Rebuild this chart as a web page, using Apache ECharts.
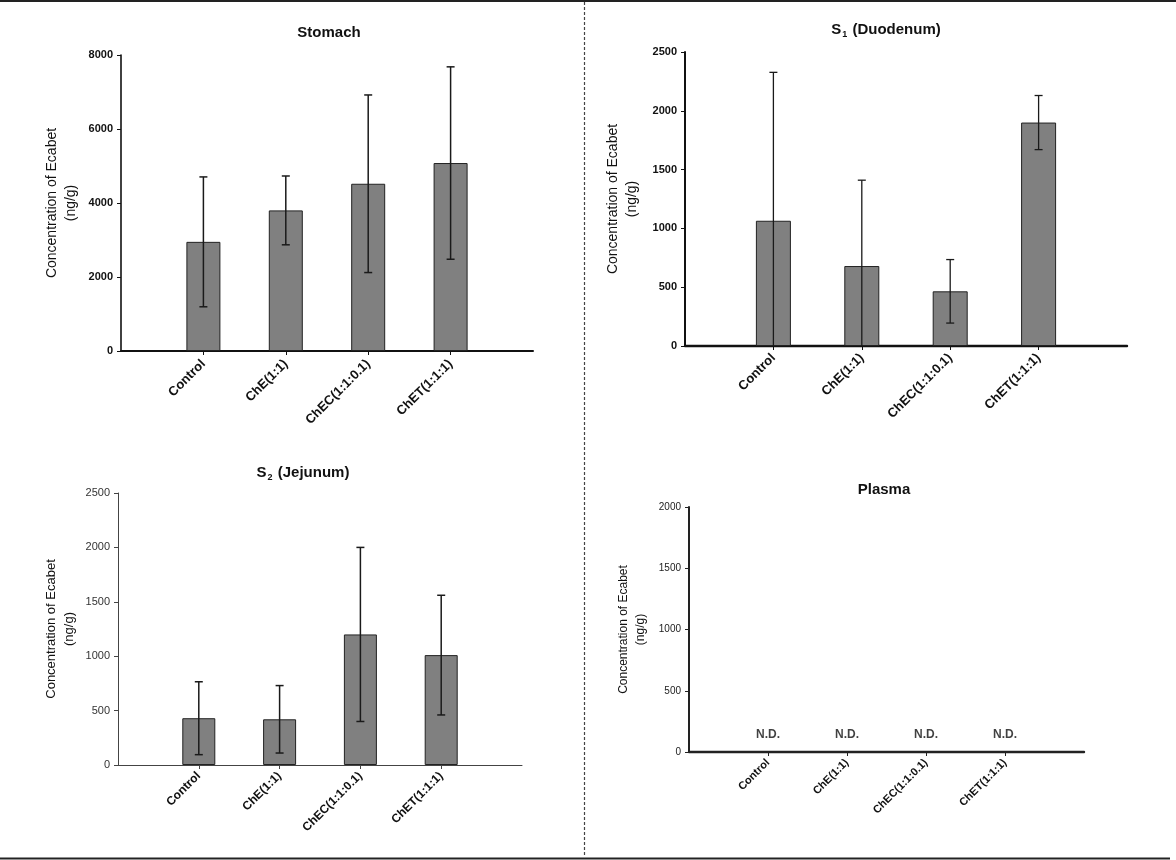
<!DOCTYPE html>
<html>
<head>
<meta charset="utf-8">
<script src="https://cdn.jsdelivr.net/npm/echarts@6/dist/echarts.min.js"></script>
<style>
html,body{margin:0;padding:0;background:#fff;}
#chart{width:1176px;height:860px;}
</style>
</head>
<body>
<div id="chart"></div>
<script>
// ---------- data ----------
const categories = ['Control', 'ChE(1:1)', 'ChEC(1:1:0.1)', 'ChET(1:1:1)'];

const stomachMean = [2950, 3800, 4520, 5080];
const stomachSD   = [1755, 930, 2400, 2600];
const stomachTicks = { max: 8000, interval: 2000 };

const duodenumMean = [1065, 680, 465, 1900];
const duodenumSD   = [1262, 730, 270, 230];
const duodenumTicks = { max: 2500, interval: 500 };

const jejunumMean = [430, 420, 1200, 1010];
const jejunumSD   = [335, 310, 800, 550];
const jejunumTicks = { max: 2500, interval: 500 };

const plasmaLabels = ['N.D.', 'N.D.', 'N.D.', 'N.D.'];
const plasmaTicks = { max: 2000, interval: 500 };

const yTitle = 'Concentration of Ecabet\n(ng/g)';

// ---------- helpers ----------
const axisCats = [''].concat(categories).concat(['']);
const FONT = 'Liberation Sans, Arial, sans-serif';

function barData(means) {
  return ['-'].concat(means).concat(['-']);
}
function errData(means, sds) {
  return means.map((m, i) => {
    const lo = m - sds[i];
    return [i + 1, Math.max(0, lo), m + sds[i], lo >= 0 ? 1 : 0];
  });
}
function errRender(lw) {
  return function (params, api) {
    const x = api.value(0), lo = api.value(1), hi = api.value(2), capLo = api.value(3);
    const pHi = api.coord([x, hi]);
    const pLo = api.coord([x, lo]);
    const cw = 4;
    const st = { stroke: '#1a1a1a', lineWidth: lw };
    const children = [
      { type: 'line', shape: { x1: pHi[0], y1: pHi[1], x2: pLo[0], y2: pLo[1] }, style: st },
      { type: 'line', shape: { x1: pHi[0] - cw, y1: pHi[1], x2: pHi[0] + cw, y2: pHi[1] }, style: st }
    ];
    if (capLo) {
      children.push({ type: 'line', shape: { x1: pLo[0] - cw, y1: pLo[1], x2: pLo[0] + cw, y2: pLo[1] }, style: st });
    }
    return { type: 'group', children: children };
  };
}

const panels = [
  { grid: { left: 121, top: 55, width: 412, height: 296 }, ticks: stomachTicks,
    axisW: 1.6, axisC: '#111', yLab: { fontSize: 11, fontWeight: 'bold', color: '#111' },
    xLabSize: 13, xMargin: 11, nameSize: 14, nameGap: 40, barW: 34, errW: 1.5 },
  { grid: { left: 685, top: 52, width: 442, height: 294 }, ticks: duodenumTicks,
    axisW: 2, axisC: '#111', yLab: { fontSize: 11, fontWeight: 'bold', color: '#111' },
    xLabSize: 13, xMargin: 10, nameSize: 14, nameGap: 43, barW: 35, errW: 1.3 },
  { grid: { left: 118, top: 493, width: 404, height: 272 }, ticks: jejunumTicks,
    axisW: 1, axisC: '#444', yLab: { fontSize: 11, fontWeight: 'normal', color: '#333' },
    xLabSize: 12, xMargin: 9, nameSize: 13, nameGap: 40, barW: 33, errW: 1.5 },
  { grid: { left: 689, top: 507, width: 395, height: 245 }, ticks: plasmaTicks,
    axisW: 2, axisC: '#222', yLab: { fontSize: 10, fontWeight: 'normal', color: '#222' },
    xLabSize: 11, xMargin: 9, nameSize: 12, nameGap: 40, barW: 30, errW: 1.3 }
];

const grids = [], xAxes = [], yAxes = [];
panels.forEach((p, i) => {
  grids.push(p.grid);
  xAxes.push({
    type: 'category', gridIndex: i, data: axisCats, boundaryGap: false,
    axisLine: { lineStyle: { color: p.axisC, width: p.axisW + (i === 2 ? 0 : 0.4) } },
    axisTick: { show: true, length: 4, interval: (idx, val) => val !== '', lineStyle: { color: p.axisC, width: 1 } },
    axisLabel: { interval: 0, rotate: 45, margin: p.xMargin, fontFamily: FONT, fontSize: p.xLabSize, fontWeight: 'bold', color: '#111' },
    splitLine: { show: false }
  });
  yAxes.push({
    type: 'value', gridIndex: i, min: 0, max: p.ticks.max, interval: p.ticks.interval,
    name: yTitle, nameLocation: 'middle', nameRotate: 90, nameGap: p.nameGap,
    nameTextStyle: { fontFamily: FONT, fontSize: p.nameSize, color: '#111', lineHeight: p.nameSize + 5 },
    axisLine: { show: true, lineStyle: { color: p.axisC, width: p.axisW } },
    axisTick: { show: true, length: 4, lineStyle: { color: p.axisC, width: 1 } },
    axisLabel: Object.assign({ margin: 8, fontFamily: FONT, formatter: v => String(v) }, p.yLab),
    splitLine: { show: false }
  });
});

const series = [];
const sets = [[stomachMean, stomachSD], [duodenumMean, duodenumSD], [jejunumMean, jejunumSD]];
sets.forEach((s, i) => {
  series.push({
    type: 'bar', xAxisIndex: i, yAxisIndex: i, data: barData(s[0]), barWidth: panels[i].barW,
    itemStyle: { color: '#808080', borderColor: '#222', borderWidth: 1 }, z: 2, silent: true
  });
  series.push({
    type: 'custom', xAxisIndex: i, yAxisIndex: i, data: errData(s[0], s[1]),
    renderItem: errRender(panels[i].errW), z: 3, silent: true
  });
});
series.push({
  type: 'scatter', xAxisIndex: 3, yAxisIndex: 3, symbolSize: 0,
  data: plasmaLabels.map((t, i) => ({ value: [i + 1, 0], name: t })),
  label: { show: true, position: 'top', distance: 11, formatter: p => p.name,
    fontFamily: FONT, fontSize: 12, fontWeight: 'bold', color: '#111' },
  silent: true
});

const titleStyle = { fontFamily: FONT, fontSize: 15, fontWeight: 'bold', color: '#111' };
const subRich = (s) => ({ rich: { a: Object.assign({ lineHeight: 18 }, titleStyle),
  s: { fontFamily: FONT, fontSize: 9, fontWeight: 'bold', color: '#111', padding: [9, 1, 0, 1], lineHeight: 18 } } });
const titles = [
  { text: 'Stomach', left: 324, top: 20, textAlign: 'center', textStyle: titleStyle },
  { text: '{a|S}{s|1}{a| (Duodenum)}', left: 881, top: 16, textAlign: 'center', textStyle: subRich() },
  { text: '{a|S}{s|2}{a| (Jejunum)}', left: 298, top: 459, textAlign: 'center', textStyle: subRich() },
  { text: 'Plasma', left: 879, top: 477, textAlign: 'center', textStyle: titleStyle }
];

const chart = echarts.init(document.getElementById('chart'), null, { renderer: 'canvas' });
chart.setOption({
  backgroundColor: '#fff',
  animation: false,
  title: titles,
  grid: grids,
  xAxis: xAxes,
  yAxis: yAxes,
  series: series,
  graphic: [
    { type: 'rect', shape: { x: 0, y: 0, width: 1176, height: 2 }, style: { fill: '#222' }, silent: true },
    { type: 'rect', shape: { x: 0, y: 857.5, width: 1170, height: 2 }, style: { fill: '#222' }, silent: true },
    { type: 'line', shape: { x1: 584.5, y1: 2, x2: 584.5, y2: 857 }, style: { stroke: '#444', lineWidth: 1.2, lineDash: [3, 2] }, silent: true }
  ]
});
</script>
</body>
</html>
